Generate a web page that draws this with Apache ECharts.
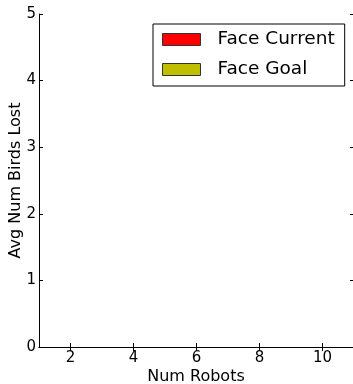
<!DOCTYPE html>
<html><head><meta charset="utf-8">
<script src="https://cdn.jsdelivr.net/npm/echarts@6/dist/echarts.min.js"></script>
<style>html,body{margin:0;padding:0;background:#fff;}#c{width:353px;height:384px;}</style>
</head><body><div id="c"></div>
<script>
const numRobots = [1, 2, 3, 4, 5, 6, 7, 8, 9, 10];
const faceCurrent = [0, 0, 0, 0, 0, 0, 0, 0, 0, 0];
const faceGoal = [0, 0, 0, 0, 0, 0, 0, 0, 0, 0];
const xTicks = [2, 4, 6, 8, 10];
const yTicks = [0, 1, 2, 3, 4, 5];

const font = 'DejaVu Sans';
const chart = echarts.init(document.getElementById('c'));
chart.setOption({
  animation: false,
  backgroundColor: '#fff',
  textStyle: { fontFamily: font },
  grid: { left: 39, top: 14, right: 0, bottom: 37, containLabel: false, outerBoundsMode: 'none' },
  legend: {
    orient: 'vertical', left: 153, top: 24,
    backgroundColor: '#fff', borderColor: '#000', borderWidth: 1, borderRadius: 0,
    padding: [5, 10, 6, 9], itemWidth: 38, itemHeight: 12, itemGap: 9, icon: 'rect',
    itemStyle: { borderColor: '#333', borderWidth: 1 },
    textStyle: { fontSize: 18.5, fontFamily: font, color: '#000', lineHeight: 21, padding: [0, 0, 0, 12] },
    data: ['Face Current', 'Face Goal']
  },
  xAxis: [{
    type: 'value', min: 1, max: 10.97, position: 'bottom',
    name: 'Num Robots', nameLocation: 'middle', nameGap: 22, nameMoveOverlap: false,
    nameTextStyle: { fontSize: 16, color: '#000', fontFamily: font },
    axisLine: { show: true, lineStyle: { color: '#000', width: 1 } },
    axisTick: { show: true, inside: true, length: 4, customValues: xTicks, lineStyle: { color: '#000' } },
    axisLabel: { customValues: xTicks, fontSize: 15, color: '#000', margin: 4, fontFamily: font },
    splitLine: { show: false }
  }, {
    type: 'value', min: 1, max: 10.97, position: 'top',
    axisLine: { show: true, lineStyle: { color: '#000', width: 1 } },
    axisTick: { show: true, inside: true, length: 4, customValues: xTicks, lineStyle: { color: '#000' } },
    axisLabel: { show: false }, splitLine: { show: false }
  }],
  yAxis: [{
    type: 'value', min: 0, max: 5, interval: 1, position: 'left',
    name: 'Avg Num Birds Lost', nameLocation: 'middle', nameGap: 15, nameMoveOverlap: false,
    nameTextStyle: { fontSize: 16, color: '#000', fontFamily: font },
    axisLine: { show: true, lineStyle: { color: '#000', width: 1 } },
    axisTick: { show: true, inside: true, length: 4, lineStyle: { color: '#000' } },
    axisLabel: { fontSize: 15, color: '#000', margin: 3, fontFamily: font },
    splitLine: { show: false }
  }, {
    type: 'value', min: 0, max: 5, interval: 1, position: 'right',
    axisLine: { show: false },
    axisTick: { show: true, inside: true, length: 3, lineStyle: { color: '#000' } },
    axisLabel: { show: false }, splitLine: { show: false }
  }],
  series: [{
    name: 'Face Current', type: 'bar', barWidth: 12,
    itemStyle: { color: '#ff0000' },
    data: numRobots.map((r, i) => [r, faceCurrent[i]])
  }, {
    name: 'Face Goal', type: 'bar', barWidth: 12,
    itemStyle: { color: '#bfbf00' },
    data: numRobots.map((r, i) => [r, faceGoal[i]])
  }]
});
</script></body></html>
